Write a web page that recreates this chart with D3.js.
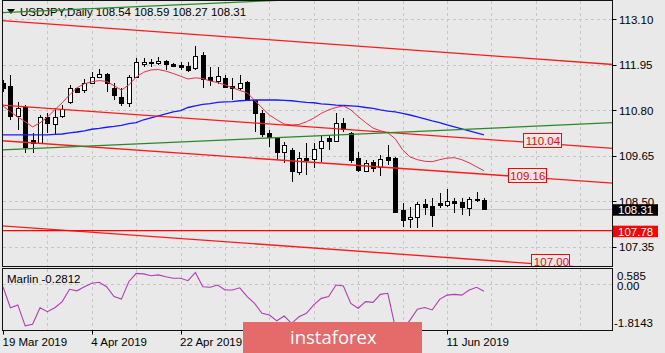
<!DOCTYPE html>
<html>
<head>
<meta charset="utf-8">
<script src="https://cdn.jsdelivr.net/npm/d3@7"></script>
<style>
  body { margin: 0; background: #e9e9e9; }
  svg { display: block; font-family: "Liberation Sans", Arial, sans-serif; }
</style>
</head>
<body>
<div class="chart"></div>
<script>
// USDJPY daily bars, 19 Mar 2019 .. 18 Jun 2019
const open = [111.49,111.42,110.66,110.89,110.05,109.98,110.63,110.45,110.66,111.01,
  111.37,111.31,111.49,111.64,111.72,111.37,111.14,110.99,111.64,111.97,
  112.02,112.00,112.05,111.97,111.95,111.92,111.87,112.20,111.64,111.54,
  111.62,111.42,111.37,111.52,111.06,110.73,110.23,110.10,109.75,109.80,
  109.24,109.60,109.57,109.85,110.10,110.03,110.48,110.23,109.60,109.27,
  109.50,109.37,109.62,109.60,108.28,108.06,108.11,108.44,108.39,108.46,
  108.41,108.51,108.49,108.33,108.55,108.54];
const high = [111.57,111.69,111.01,110.94,110.23,110.68,110.73,110.86,110.94,111.44,
  111.39,111.59,111.77,111.84,111.74,111.49,111.37,111.69,112.12,112.12,
  112.10,112.15,112.07,112.00,112.02,112.02,112.43,112.27,111.89,111.89,
  111.69,111.62,111.69,111.54,111.06,110.81,110.30,110.13,110.00,109.85,
  109.75,109.98,109.98,110.18,110.18,110.73,110.61,110.25,109.75,109.55,
  109.55,109.67,109.93,109.62,108.46,108.36,108.49,108.56,108.59,108.71,
  108.82,108.59,108.59,108.61,108.74,108.59];
const low = [111.26,110.56,110.30,109.72,109.72,109.95,110.23,110.18,110.61,110.96,
  111.24,111.24,111.47,111.62,111.26,111.06,110.91,110.89,111.62,111.89,
  111.89,111.95,111.82,111.89,111.82,111.77,111.82,111.37,111.42,111.47,
  111.37,111.06,111.31,111.04,110.25,110.13,109.88,109.55,109.47,108.99,
  109.17,109.17,109.34,109.50,109.80,110.00,110.25,109.47,109.24,109.24,
  109.24,109.14,109.42,108.21,107.86,107.83,107.83,108.16,107.86,108.33,
  108.36,108.21,108.16,108.13,108.49,108.27];
const close = [111.37,110.66,110.86,109.88,109.98,110.63,110.48,110.63,110.83,111.37,
  111.26,111.49,111.64,111.72,111.49,111.19,110.99,111.64,112.02,112.02,
  112.00,112.05,111.97,111.92,111.89,111.82,112.17,111.59,111.57,111.67,
  111.39,111.37,111.49,111.06,110.73,110.20,110.13,109.75,109.93,109.27,
  109.60,109.55,109.82,110.03,110.03,110.48,110.33,109.55,109.29,109.47,
  109.34,109.57,109.55,108.23,108.03,108.11,108.44,108.36,108.16,108.41,
  108.51,108.46,108.36,108.56,108.52,108.31];

// moving averages
const fastMA = [110.91,110.76,110.63,110.51,110.38,110.48,110.63,110.81,110.99,111.19,
  111.37,111.47,111.52,111.55,111.53,111.42,111.31,111.44,111.64,111.76,
  111.82,111.83,111.79,111.73,111.66,111.59,111.62,111.60,111.54,111.50,
  111.44,111.37,111.30,111.24,111.05,110.86,110.68,110.56,110.45,110.43,
  110.44,110.51,110.60,110.72,110.81,110.87,110.91,110.81,110.64,110.49,
  110.35,110.28,110.23,110.08,109.80,109.62,109.55,109.51,109.50,109.55,
  109.59,109.60,109.55,109.47,109.37,109.27];
const slowMA = [110.18,110.18,110.18,110.18,110.18,110.18,110.18,110.19,110.20,110.23,
  110.25,110.28,110.32,110.34,110.37,110.39,110.42,110.46,110.49,110.56,
  110.61,110.66,110.71,110.76,110.79,110.87,110.91,110.95,110.97,111.00,
  111.01,111.02,111.04,111.05,111.06,111.06,111.06,111.06,111.05,111.04,
  111.02,111.00,110.99,110.96,110.95,110.93,110.92,110.91,110.90,110.87,
  110.85,110.81,110.78,110.76,110.72,110.68,110.63,110.58,110.53,110.49,
  110.43,110.38,110.33,110.28,110.23,110.18];

// Marlin oscillator
const marlin = [-0.10,-0.93,-0.82,-1.65,-1.59,-0.93,-1.09,-0.93,-0.69,-0.20,
  -0.26,-0.10,0.04,0.08,-0.10,-0.49,-0.59,0.10,0.43,0.41,
  0.34,0.37,0.30,0.24,0.24,0.14,0.47,-0.10,-0.12,-0.03,
  -0.23,-0.23,-0.14,-0.49,-0.76,-1.15,-1.22,-1.45,-1.26,-1.55,
  -1.29,-1.15,-0.82,-0.56,-0.49,-0.03,-0.07,-0.76,-0.95,-0.69,
  -0.72,-0.40,-0.36,-1.70,-1.81,-1.42,-0.99,-0.92,-1.02,-0.60,
  -0.43,-0.40,-0.43,-0.23,-0.12,-0.2812];

const priceTicks = [113.10, 111.95, 110.80, 109.65, 108.50, 107.35];
const marlinMax = 0.585, marlinMin = -1.8143;
// the 8 May and 24 May labels sit under the watermark, so only ticks are kept there
const dateLabels = ["19 Mar 2019", "4 Apr 2019", "22 Apr 2019", "11 Jun 2019"];
const dateLabelBars = [0, 12, 24, 60];
const dateTickBars = [0, 12, 24, 36, 48, 60];

// drawn objects: [bar1, price1, bar2, price2]
const redLines = [[-1, 113.08, 83, 111.95], [-1, 110.94, 83, 109.83], [-1, 110.04, 83, 108.95], [-1, 107.89, 83, 106.77]];
const greenLines = [[-1, 109.79, 83, 110.49], [-1, 113.26, 83, 113.96]];
const supportLevel = 107.78;
const levelTags = [{ text: "110.04", bar: 70.3, value: 110.04 }, { text: "109.16", bar: 68.2, value: 109.16 }, { text: "107.00", bar: 71.4, value: 107.00 }];
const lastPrice = 108.31;

const W = 665, H = 353;
const L = 2.5, R = 612.5, mTop = 0.5, mBot = 266.5, iTop = 268.5, iBot = 330.5;

const x = d3.scaleLinear().domain([0, 65]).range([3, 484]);
const y = d3.scaleLinear().domain([113.10, 107.35]).range([19.3, 246.7]);
const yi = d3.scaleLinear().domain([marlinMax, marlinMin]).range([269.5, 330]);
const fmt = d3.format(".2f");

const svg = d3.select(".chart").append("svg").attr("width", W).attr("height", H);
svg.append("rect").attr("width", W).attr("height", H).attr("fill", "#e9e9e9");

const defs = svg.append("defs");
defs.append("clipPath").attr("id", "clipMain").append("rect")
  .attr("x", L).attr("y", mTop).attr("width", R - L).attr("height", mBot - mTop);
defs.append("clipPath").attr("id", "clipInd").append("rect")
  .attr("x", L).attr("y", iTop).attr("width", R - L).attr("height", iBot - iTop);

// grid
const grid = svg.append("g").attr("stroke", "#c6c6c6").attr("stroke-dasharray", "3,3")
  .attr("shape-rendering", "crispEdges");
const gridBars = d3.range(6, 80, 6);
grid.selectAll("line.vm").data(gridBars).join("line")
  .attr("x1", d => Math.round(x(d)) + 0.5).attr("x2", d => Math.round(x(d)) + 0.5)
  .attr("y1", mTop).attr("y2", mBot);
grid.selectAll("line.vi").data(gridBars).join("line").attr("class", "vi")
  .attr("x1", d => Math.round(x(d)) + 0.5).attr("x2", d => Math.round(x(d)) + 0.5)
  .attr("y1", iTop).attr("y2", iBot);
grid.selectAll("line.h").data(priceTicks).join("line").attr("class", "h")
  .attr("x1", L).attr("x2", R)
  .attr("y1", d => Math.round(y(d)) + 0.5).attr("y2", d => Math.round(y(d)) + 0.5);
grid.append("line").attr("x1", L).attr("x2", R)
  .attr("y1", Math.round(yi(0)) + 0.5).attr("y2", Math.round(yi(0)) + 0.5);

// title
svg.append("path").attr("d", "M7,9 L15,9 L11,14 Z").attr("fill", "#000");
svg.append("text").attr("x", 20).attr("y", 16).attr("font-size", "11.5px").attr("fill", "#000")
  .text("USDJPY,Daily  " + [open, high, low, close].map(a => fmt(a[a.length - 1])).join(" "));

const main = svg.append("g").attr("clip-path", "url(#clipMain)");

// bid line
main.append("line").attr("x1", L).attr("x2", R)
  .attr("y1", Math.round(y(lastPrice)) + 0.5).attr("y2", Math.round(y(lastPrice)) + 0.5)
  .attr("stroke", "#c4c4c4");

// candles
const idx = d3.range(open.length);
const cg = main.append("g").attr("shape-rendering", "crispEdges");
cg.selectAll("line").data(idx).join("line")
  .attr("x1", i => Math.round(x(i)) + 0.5).attr("x2", i => Math.round(x(i)) + 0.5)
  .attr("y1", i => Math.round(y(high[i]))).attr("y2", i => Math.round(y(low[i])))
  .attr("stroke", "#000");
cg.selectAll("rect").data(idx).join("rect")
  .attr("x", i => Math.round(x(i)) - 1.5)
  .attr("y", i => Math.round(y(Math.max(open[i], close[i]))) + 0.5)
  .attr("width", 4)
  .attr("height", i => Math.max(1, Math.round(Math.abs(y(open[i]) - y(close[i])))))
  .attr("fill", i => close[i] >= open[i] ? "#fff" : "#000")
  .attr("stroke", "#000");

// moving averages
const maLine = d3.line().x((d, i) => x(i)).y(d => y(d));
main.append("path").datum(slowMA).attr("d", maLine).attr("fill", "none")
  .attr("stroke", "#1a1aff").attr("stroke-width", 1.3);
main.append("path").datum(fastMA).attr("d", maLine).attr("fill", "none")
  .attr("stroke", "#e0304f").attr("stroke-width", 1);

// trend lines
const seg = d => "M" + x(d[0]) + "," + y(d[1]) + "L" + x(d[2]) + "," + y(d[3]);
main.selectAll("path.red").data(redLines).join("path").attr("class", "red")
  .attr("d", seg).attr("stroke", "#ff1a1a").attr("stroke-width", 1.3).attr("fill", "none");
main.selectAll("path.green").data(greenLines).join("path").attr("class", "green")
  .attr("d", seg).attr("stroke", "#2a872a").attr("stroke-width", 1.3).attr("fill", "none");
main.append("line").attr("x1", L).attr("x2", R)
  .attr("y1", y(supportLevel) + 1).attr("y2", y(supportLevel) + 1)
  .attr("stroke", "#ff0000").attr("stroke-width", 1.2);

// level tags
const tags = main.selectAll("g.tag").data(levelTags).join("g").attr("class", "tag");
tags.append("rect")
  .attr("x", d => Math.round(x(d.bar)) + 0.5).attr("y", d => Math.round(y(d.value)) - 6.5)
  .attr("width", 38).attr("height", 14)
  .attr("fill", "#e9e9e9").attr("stroke", "#ff0000");
tags.append("text")
  .attr("x", d => x(d.bar) + 2.5).attr("y", d => y(d.value) + 5)
  .attr("font-size", "11.5px").attr("fill", "#ff0000").text(d => d.text);

// frames
svg.append("rect").attr("x", L).attr("y", mTop).attr("width", R - L).attr("height", mBot - mTop)
  .attr("fill", "none").attr("stroke", "#111");
svg.append("rect").attr("x", L).attr("y", iTop).attr("width", R - L).attr("height", iBot - iTop)
  .attr("fill", "none").attr("stroke", "#111");

// price axis
const ax = svg.append("g").attr("font-size", "11.5px").attr("fill", "#000");
ax.selectAll("line").data(priceTicks).join("line")
  .attr("x1", R).attr("x2", R + 4)
  .attr("y1", d => Math.round(y(d)) + 0.5).attr("y2", d => Math.round(y(d)) + 0.5)
  .attr("stroke", "#000");
ax.selectAll("text").data(priceTicks).join("text")
  .attr("x", 619).attr("y", d => y(d) + 4.5).text(fmt);

ax.append("rect").attr("x", 613).attr("y", y(lastPrice) - 4.5).attr("width", 45).attr("height", 11.5).attr("fill", "#000");
ax.append("text").attr("x", 618).attr("y", y(lastPrice) + 5.5).attr("fill", "#fff").text(fmt(lastPrice));
ax.append("rect").attr("x", 613).attr("y", y(supportLevel) - 4).attr("width", 45).attr("height", 11.5).attr("fill", "#ff0000");
ax.append("text").attr("x", 618).attr("y", y(supportLevel) + 6).attr("fill", "#fff").text(fmt(supportLevel));

// Marlin
const ind = svg.append("g").attr("clip-path", "url(#clipInd)");
ind.append("path").datum(marlin)
  .attr("d", d3.line().x((d, i) => x(i)).y(d => yi(d)))
  .attr("fill", "none").attr("stroke", "#b03cb4").attr("stroke-width", 1.1);
svg.append("text").attr("x", 7).attr("y", 282.5).attr("font-size", "11.5px")
  .text("Marlin " + marlin[marlin.length - 1].toFixed(4));

const ia = svg.append("g").attr("font-size", "11.5px");
ia.append("text").attr("x", 617).attr("y", yi(marlinMax) + 10).text(String(marlinMax));
ia.append("text").attr("x", 617).attr("y", yi(0) + 5.5).text("0.00");
ia.append("text").attr("x", 614).attr("y", yi(marlinMin) - 3).text(String(marlinMin));

// date axis
const da = svg.append("g").attr("font-size", "11.5px");
da.selectAll("line").data(dateTickBars).join("line")
  .attr("x1", d => Math.round(x(d)) + 0.5).attr("x2", d => Math.round(x(d)) + 0.5)
  .attr("y1", iBot).attr("y2", iBot + 4).attr("stroke", "#000");
da.selectAll("text").data(dateLabelBars).join("text")
  .attr("x", d => x(d) - 0.5).attr("y", 346).text((d, k) => dateLabels[k]);

// watermark
svg.append("rect").attr("x", 243).attr("y", 322).attr("width", 179).attr("height", 31).attr("fill", "#e56a6a");
svg.append("text").attr("x", 290).attr("y", 343.5).attr("font-family", "'Open Sans', sans-serif")
  .attr("font-size", "18.5px").attr("fill", "#fff").text("instaforex");
</script>
</body>
</html>
